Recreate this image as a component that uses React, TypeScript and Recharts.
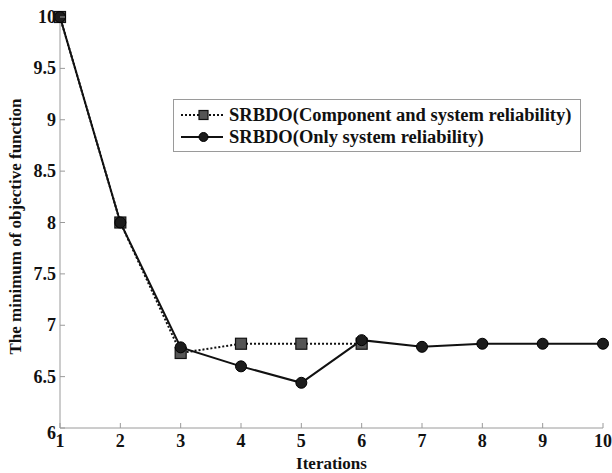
import React from 'react';
import { LineChart, Line, XAxis, YAxis, Legend, Label } from 'recharts';

const iterations = [1, 2, 3, 4, 5, 6, 7, 8, 9, 10];
const componentAndSystem: (number | null)[] = [10, 8, 6.73, 6.82, 6.82, 6.82, null, null, null, null];
const onlySystem = [10, 8, 6.785, 6.6, 6.44, 6.855, 6.79, 6.82, 6.82, 6.82];
const xTicks = [1, 2, 3, 4, 5, 6, 7, 8, 9, 10];
const yTicks = [6, 6.5, 7, 7.5, 8, 8.5, 9, 9.5, 10];
const seriesNames = ['SRBDO(Component and system reliability)', 'SRBDO(Only system reliability)'];

const data = iterations.map((it, i) => ({ it, a: componentAndSystem[i], b: onlySystem[i] }));

const FONT = '"Liberation Serif", "Times New Roman", serif';
const AXIS = '#9a9a9a';

const BottomTick = (p: any) => (
  <g>
    <line x1={p.x} x2={p.x} y1={p.y} y2={p.y - 5} stroke={AXIS} />
    <text x={p.x} y={p.y + 19} textAnchor="middle" fontFamily={FONT} fontWeight="bold" fontSize={18} fill="#111">
      {p.payload.value}
    </text>
  </g>
);
const TopTick = (p: any) => (
  <line x1={p.x} x2={p.x} y1={p.y} y2={p.y + 5} stroke={AXIS} />
);
const LeftTick = (p: any) => (
  <g>
    <line x1={p.x} x2={p.x + 5} y1={p.y} y2={p.y} stroke={AXIS} />
    <text x={p.x - 4} y={p.payload.value === 6 ? p.y + 11 : p.y + 6} textAnchor="end" fontFamily={FONT} fontWeight="bold" fontSize={18} fill="#111">
      {p.payload.value}
    </text>
  </g>
);
const RightTick = (p: any) => (
  <line x1={p.x} x2={p.x - 5} y1={p.y} y2={p.y} stroke={AXIS} />
);

const SquareDot = (p: any) => {
  if (p.cx == null || p.cy == null || p.value == null) return <g key={p.index} />;
  return <rect key={p.index} x={p.cx - 5.5} y={p.cy - 5.5} width={11} height={11} fill="#555" stroke="#111" strokeWidth={1.2} />;
};
const CircleDot = (p: any) => {
  if (p.cx == null || p.cy == null) return <g key={p.index} />;
  return <circle key={p.index} cx={p.cx} cy={p.cy} r={5.5} fill="#1c1c1c" stroke="#000" strokeWidth={1} />;
};

const renderLegend = () => (
  <div
    style={{
      width: 408,
      height: 53,
      boxSizing: 'border-box',
      border: `1px solid ${AXIS}`,
      background: '#fff',
      fontFamily: FONT,
      fontWeight: 'bold',
      fontSize: 18.5,
      color: '#111',
      position: 'relative',
    }}
  >
    {seriesNames.map((name, i) => (
      <div key={name} style={{ position: 'absolute', left: 0, top: i === 0 ? 4 : 26, height: 22, display: 'flex', alignItems: 'center', whiteSpace: 'nowrap' }}>
        <svg width={55} height={22} style={{ display: 'block' }}>
          <line x1={7} x2={49} y1={11} y2={11} stroke="#111" strokeWidth={2} strokeDasharray={i === 0 ? '2 2' : undefined} />
          {i === 0 ? (
            <rect x={25} y={6.5} width={9} height={9} fill="#555" stroke="#111" strokeWidth={1.2} />
          ) : (
            <circle cx={29.5} cy={11} r={4.5} fill="#1c1c1c" stroke="#000" />
          )}
        </svg>
        <span style={{ lineHeight: '22px' }}>{name}</span>
      </div>
    ))}
  </div>
);

export default function App() {
  return (
    <div style={{ position: 'absolute', left: 0, top: 0, width: 612, height: 473, background: '#fff' }}>
      <LineChart width={612} height={473} data={data} margin={{ top: 17, right: 9, bottom: 0, left: 0 }}>
        <XAxis
          xAxisId="b"
          dataKey="it"
          type="number"
          domain={[1, 10]}
          ticks={xTicks}
          stroke={AXIS}
          tickLine={false}
          tickSize={0}
          tickMargin={0}
          tick={<BottomTick />}
          height={45}
          interval={0}
        >
          <Label value="Iterations" position="insideBottom" offset={4} style={{ fontFamily: FONT, fontWeight: 'bold', fontSize: 17, fill: '#111' }} />
        </XAxis>
        <XAxis
          xAxisId="t"
          orientation="top"
          dataKey="it"
          type="number"
          domain={[1, 10]}
          ticks={xTicks}
          stroke={AXIS}
          tickLine={false}
          tickSize={0}
          tickMargin={0}
          tick={<TopTick />}
          height={0}
          interval={0}
        />
        <YAxis
          yAxisId="l"
          type="number"
          domain={[6, 10]}
          ticks={yTicks}
          stroke={AXIS}
          tickLine={false}
          tickSize={0}
          tickMargin={0}
          tick={<LeftTick />}
          width={60}
          interval={0}
        >
          <Label
            value="The minimum of objective function"
            angle={-90}
            position="insideLeft"
            offset={0}
            style={{ fontFamily: FONT, fontWeight: 'bold', fontSize: 17, fill: '#111', textAnchor: 'middle' }}
            dx={15}
            dy={4}
          />
        </YAxis>
        <YAxis
          yAxisId="r"
          orientation="right"
          type="number"
          domain={[6, 10]}
          ticks={yTicks}
          stroke={AXIS}
          tickLine={false}
          tickSize={0}
          tickMargin={0}
          tick={<RightTick />}
          width={0}
          interval={0}
        />
        <Legend content={renderLegend} wrapperStyle={{ position: 'absolute', left: 173, top: 99, width: 0, height: 0, overflow: 'visible' }} />
        <Line
          xAxisId="b"
          yAxisId="l"
          dataKey="a"
          name={seriesNames[0]}
          stroke="#111"
          strokeWidth={2}
          strokeDasharray="2 2"
          dot={<SquareDot />}
          activeDot={false}
          isAnimationActive={false}
          connectNulls={false}
        />
        <Line
          xAxisId="b"
          yAxisId="l"
          dataKey="b"
          name={seriesNames[1]}
          stroke="#111"
          strokeWidth={2}
          dot={<CircleDot />}
          activeDot={false}
          isAnimationActive={false}
        />
      </LineChart>
    </div>
  );
}
